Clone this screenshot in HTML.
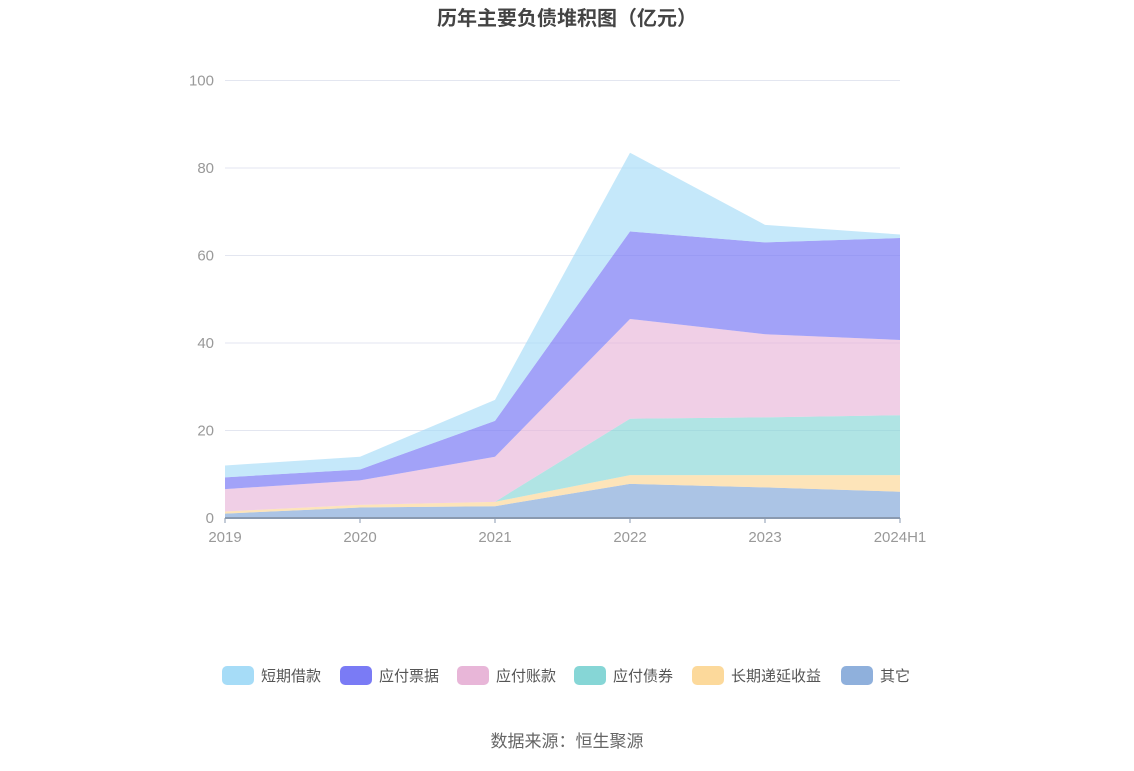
<!DOCTYPE html>
<html><head><meta charset="utf-8"><style>
body{margin:0;background:#fff;font-family:"Liberation Sans","Noto Sans CJK SC",sans-serif}
</style></head><body>
<svg width="1134" height="766" id="svg">
<text x="567" y="25" text-anchor="middle" font-size="20" font-weight="bold" fill="#444" font-family="Liberation Sans, Noto Sans CJK SC, sans-serif">历年主要负债堆积图（亿元）</text>
<g id="grid"></g><g id="areas"></g><g id="axes"></g><g id="legend"></g>
<text x="567" y="747" text-anchor="middle" font-size="17" fill="#666" font-family="Liberation Sans, Noto Sans CJK SC, sans-serif">数据来源：恒生聚源</text>
</svg>
<script>
const categories=["2019","2020","2021","2022","2023","2024H1"];
const seriesNames=["其它","长期递延收益","应付债券","应付账款","应付票据","短期借款"];
const other=[1.0,2.4,2.7,7.8,7.0,6.0];
const deferred=[0.5,0.6,1.0,2.0,2.8,3.8];
const bonds=[0,0,0,12.9,13.2,13.7];
const payables=[5.1,5.6,10.3,22.8,19.0,17.2];
const notes=[2.7,2.5,8.2,20.0,21.0,23.3];
const shortLoans=[2.7,2.9,4.8,18.0,4.0,0.8];
const yTicks=[0,20,40,60,80,100];
const colors=["#8fb0dc","#fcd99b","#86d6d6","#e8b6d8","#7a7bf5","#a6dcf7"];
const fills=["rgba(143,176,220,0.75)","rgba(252,217,155,0.7)","rgba(134,214,214,0.65)","rgba(232,182,216,0.65)","rgba(122,123,245,0.7)","rgba(166,220,247,0.65)"];
const legendOrder=[5,4,3,2,1,0];
const ns="http://www.w3.org/2000/svg";
const x0=225,x1=900,y0=518,y100=80.5;
const X=i=>x0+(x1-x0)*i/(categories.length-1);
const Y=v=>y0-(y0-y100)*v/100;
function el(t,a,p){const e=document.createElementNS(ns,t);for(const k in a)e.setAttribute(k,a[k]);document.getElementById(p).appendChild(e);return e;}
yTicks.forEach(t=>{
 const l=el("line",{x1:x0,x2:x1,y1:Y(t),y2:Y(t),stroke:"#e3e6f0","stroke-width":1},"grid");
 
 
 const tx=el("text",{x:214,y:Y(t)+5,"text-anchor":"end","font-size":15,fill:"#999"},"axes");
 tx.textContent=t;
 
 
});
const data=[other,deferred,bonds,payables,notes,shortLoans];
let base=categories.map(()=>0);
data.forEach((s,k)=>{
 const top=base.map((b,i)=>b+s[i]);
 let d="M"+top.map((v,i)=>X(i)+","+Y(v)).join("L");
 for(let i=categories.length-1;i>=0;i--)d+="L"+X(i)+","+Y(base[i]);
 const p=el("path",{d:d+"Z",fill:fills[k],stroke:"none"},"areas");
 
 
 base=top;
});
const ax=el("line",{x1:x0,x2:x1,y1:y0,y2:y0,stroke:"#8a9ab0","stroke-width":2},"axes");


categories.forEach((c,i)=>{
 const t=el("line",{x1:X(i),x2:X(i),y1:y0,y2:y0+5,stroke:"#8a9ab0"},"axes");
 
 
 const tx=el("text",{x:X(i),y:542,"text-anchor":"middle","font-size":15,fill:"#999"},"axes");
 tx.textContent=c;
 
 
});
const lx=[222,340,457,574,692,841];
legendOrder.forEach((k,j)=>{
 const g=el("g",{},"legend");
 
 
 const r=document.createElementNS(ns,"rect");
 r.setAttribute("x",lx[j]);r.setAttribute("y",666);r.setAttribute("width",32);r.setAttribute("height",19);r.setAttribute("rx",5);r.setAttribute("fill",colors[k]);
 g.appendChild(r);
 const t=document.createElementNS(ns,"text");
 t.setAttribute("x",lx[j]+39);t.setAttribute("y",681);t.setAttribute("font-size",15);t.setAttribute("fill","#555");
 t.textContent=seriesNames[k];g.appendChild(t);
});
</script>
</body></html>
